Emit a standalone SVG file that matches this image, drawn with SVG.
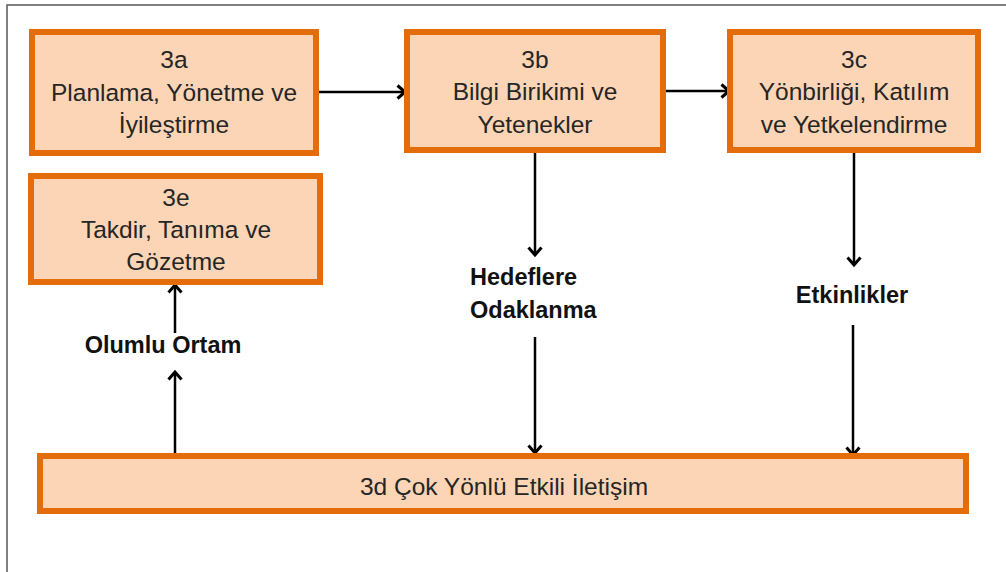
<svg xmlns="http://www.w3.org/2000/svg" width="1006" height="572" viewBox="0 0 1006 572">
<style>
.box{fill:#FBD5B5;stroke:#E46C0A;stroke-width:6}
.t{font-family:"Liberation Sans",Arial,sans-serif;font-size:24.5px;fill:#262626;text-anchor:middle}
.b{font-family:"Liberation Sans",Arial,sans-serif;font-size:23.5px;font-weight:bold;fill:#111}
.c{stroke:#000;stroke-width:2.5;fill:none}
</style>
<defs>
<marker id="arr" markerUnits="userSpaceOnUse" markerWidth="16" markerHeight="16" viewBox="0 0 16 16" refX="13" refY="8" orient="auto">
<path d="M5.5,1.5 L13,8 L5.5,14.5" fill="none" stroke="#000" stroke-width="3"/>
</marker>
</defs>
<rect width="1006" height="572" fill="#fff"/>
<path d="M7,572 V5 H1006" fill="none" stroke="#555" stroke-width="1.5"/>
<g id="connectors">
<line class="c" x1="317" y1="92" x2="405" y2="92" marker-end="url(#arr)"/>
<line class="c" x1="663" y1="91" x2="729" y2="91" marker-end="url(#arr)"/>
<line class="c" x1="535" y1="153" x2="535" y2="255" marker-end="url(#arr)"/>
<line class="c" x1="535" y1="337" x2="535" y2="453" marker-end="url(#arr)"/>
<line class="c" x1="854" y1="153" x2="854" y2="265" marker-end="url(#arr)"/>
<line class="c" x1="853" y1="325" x2="853" y2="455" marker-end="url(#arr)"/>
<line class="c" x1="175" y1="453" x2="175" y2="372" marker-end="url(#arr)"/>
<line class="c" x1="175" y1="333" x2="175" y2="285" marker-end="url(#arr)"/>
</g>
<g id="n3a">
<rect class="box" x="32" y="32" width="284" height="121"/>
<text class="t" x="174" y="68">3a</text>
<text class="t" x="174" y="101">Planlama, Yönetme ve</text>
<text class="t" x="174" y="133">İyileştirme</text>
</g>
<g id="n3b">
<rect class="box" x="407" y="32" width="256" height="118"/>
<text class="t" x="535" y="68">3b</text>
<text class="t" x="535" y="100">Bilgi Birikimi ve</text>
<text class="t" x="535" y="133">Yetenekler</text>
</g>
<g id="n3c">
<rect class="box" x="730" y="32" width="248" height="118"/>
<text class="t" x="854" y="68">3c</text>
<text class="t" x="854" y="100">Yönbirliği, Katılım</text>
<text class="t" x="854" y="133">ve Yetkelendirme</text>
</g>
<g id="n3e">
<rect class="box" x="31" y="176" width="289" height="106"/>
<text class="t" x="176" y="206">3e</text>
<text class="t" x="176" y="238">Takdir, Tanıma ve</text>
<text class="t" x="176" y="270">Gözetme</text>
</g>
<g id="n3d">
<rect class="box" x="40" y="456" width="926" height="55"/>
<text class="t" x="504" y="495">3d Çok Yönlü Etkili İletişim</text>
</g>
<g id="lHedef">
<text class="b" x="470" y="285">Hedeflere</text>
<text class="b" x="470" y="318">Odaklanma</text>
</g>
<g id="lEtk">
<text class="b" x="852" y="303" text-anchor="middle">Etkinlikler</text>
</g>
<g id="lOlumlu">
<text class="b" x="163" y="353" text-anchor="middle">Olumlu Ortam</text>
</g>
</svg>
